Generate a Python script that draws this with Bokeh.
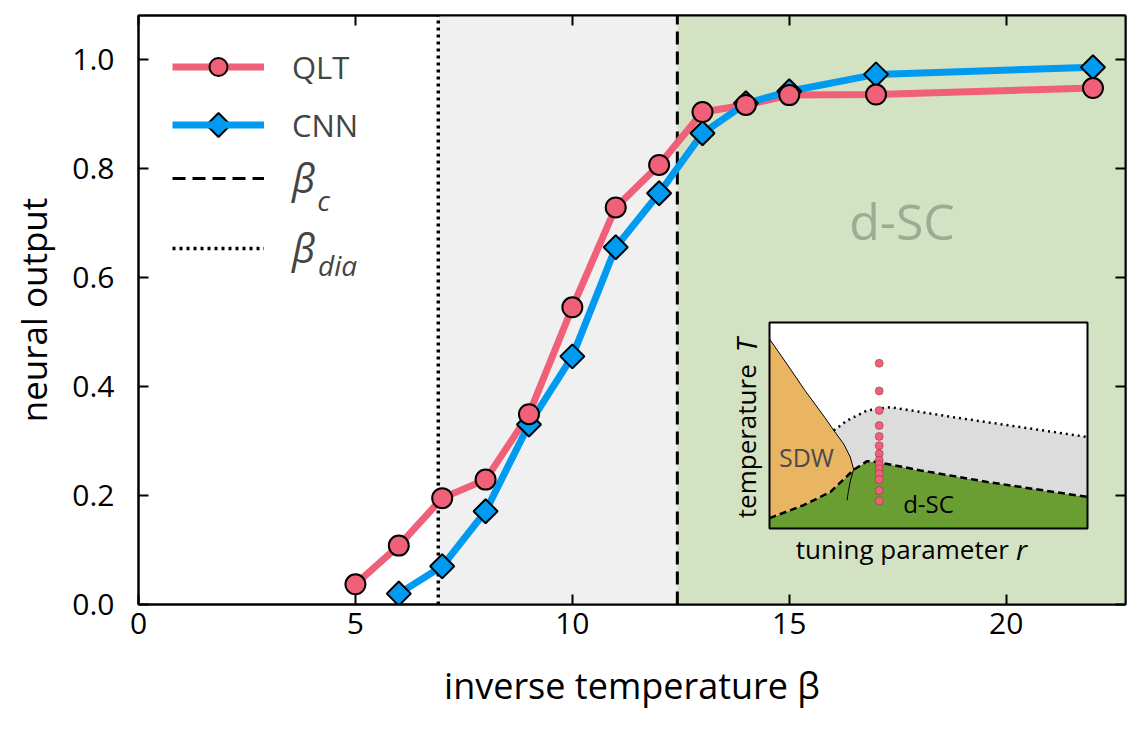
import math
from bokeh.plotting import figure
from bokeh.models import (Range1d, LinearAxis, FixedTicker, PrintfTickFormatter, BoxAnnotation,
                          Legend, LegendItem, Label)
from bokeh.core.properties import value
from bokeh.embed import file_html
from bokeh.resources import INLINE

# ---------------- data ----------------
beta_qlt = [5, 6, 7, 8, 9, 10, 11, 12, 13, 14, 15, 17, 22]
out_qlt = [0.037, 0.108, 0.195, 0.229, 0.349, 0.545, 0.728, 0.806, 0.903, 0.916, 0.934, 0.935, 0.947]
beta_cnn = [6, 7, 8, 9, 10, 11, 12, 13, 14, 15, 17, 22]
out_cnn = [0.020, 0.070, 0.171, 0.330, 0.455, 0.655, 0.754, 0.864, 0.919, 0.941, 0.972, 0.985]
beta_c = 12.42
beta_dia = 6.91
x_ticks = [0, 5, 10, 15, 20]
y_ticks = [0.0, 0.2, 0.4, 0.6, 0.8, 1.0]

# inset schematic (normalised 0..1 coordinates)
sdw_u = [0.0, 0.055, 0.112, 0.181, 0.202, 0.233, 0.254, 0.265]
sdw_v = [0.92, 0.798, 0.669, 0.524, 0.476, 0.411, 0.347, 0.285]
tc_u = [0.0, 0.107, 0.191, 0.265, 0.286, 0.307, 0.338, 0.475, 0.685, 1.0]
tc_v = [0.05, 0.113, 0.177, 0.285, 0.306, 0.327, 0.323, 0.282, 0.226, 0.153]
cross_u = [0.202, 0.244, 0.307, 0.38, 0.58, 0.79, 1.0]
cross_v = [0.476, 0.524, 0.573, 0.589, 0.540, 0.492, 0.444]
fo_u = [0.265, 0.255, 0.248, 0.244]
fo_v = [0.29, 0.235, 0.18, 0.137]
dots_u = 0.345
dots_v = [0.802, 0.668, 0.573, 0.500, 0.447, 0.402, 0.363, 0.331, 0.311, 0.290, 0.266, 0.237, 0.184, 0.134]

RED = "#f06078"
BLUE = "#009bf0"
FONT = "Open Sans"

# frame geometry (pixels)
W, H = 1140, 735
FL, FR, FT, FB = 138, 1125, 15, 604

p = figure(width=W, height=H, x_range=Range1d(0, 22.75), y_range=Range1d(0, 1.08),
           output_backend="svg", toolbar_location=None,
           min_border_left=FL, min_border_right=W - FR, min_border_top=FT, min_border_bottom=H - FB)
p.xgrid.visible = False
p.ygrid.visible = False
p.outline_line_color = "black"
p.outline_line_width = 2
p.background_fill_color = "white"

# pixel-space helper range (for legend marker overlay)
p.extra_x_ranges = {"px": Range1d(FL, FR)}
p.extra_y_ranges = {"px": Range1d(FB, FT)}

# shading
p.add_layout(BoxAnnotation(left=beta_dia, right=beta_c, fill_color="#f0f0f0", fill_alpha=1,
                           line_alpha=0, level="underlay"))
p.add_layout(BoxAnnotation(left=beta_c, fill_color="#d4e2c4", fill_alpha=1, line_alpha=0, level="underlay"))

p.text(x=[17.6], y=[0.704], text=["d-SC"], text_font=value(FONT), text_font_size="50px",
       text_color="#9dab93", text_align="center", text_baseline="middle")

# vertical lines
ymax = p.y_range.end
r_dia = p.line([beta_dia, beta_dia], [0, ymax], line_color="black", line_width=3.5, line_dash="3 4")
r_c = p.line([beta_c, beta_c], [0, ymax], line_color="black", line_width=3, line_dash="13 7")

# data series
l_q = p.line(beta_qlt, out_qlt, line_color=RED, line_width=7)
l_c = p.line(beta_cnn, out_cnn, line_color=BLUE, line_width=7)
s_c = p.scatter(beta_cnn, out_cnn, marker="square", angle=math.pi / 4, size=17,
                fill_color=BLUE, line_color="black", line_width=2)
s_q = p.scatter(beta_qlt, out_qlt, marker="circle", size=20,
                fill_color=RED, line_color="black", line_width=2)

# axes styling
def style_axis(ax, labels=True):
    ax.axis_line_width = 2
    ax.major_tick_line_width = 2
    ax.major_tick_in = 10
    ax.major_tick_out = 0
    ax.minor_tick_line_color = None
    ax.major_label_text_font = FONT
    ax.major_label_text_font_size = "30px" if labels else "1px"
    ax.major_label_text_color = "black" if labels else None
    ax.axis_label_text_font = FONT
    ax.axis_label_text_font_style = "normal"
    ax.axis_label_text_color = "black"

p.xaxis.ticker = FixedTicker(ticks=x_ticks)
p.yaxis.ticker = FixedTicker(ticks=y_ticks)
p.yaxis.formatter = PrintfTickFormatter(format="%.1f")
for ax in p.xaxis + p.yaxis:
    style_axis(ax)
p.xaxis.axis_label = "inverse temperature β"
p.xaxis.axis_label_text_font_size = "36px"
p.xaxis.major_label_standoff = 8
p.xaxis.axis_label_standoff = 24
p.yaxis.axis_label = "neural output"
p.yaxis.axis_label_text_font_size = "35px"
p.yaxis.major_label_standoff = 24
p.yaxis.axis_label_standoff = 12

top_ax = LinearAxis(ticker=FixedTicker(ticks=x_ticks))
right_ax = LinearAxis(ticker=FixedTicker(ticks=y_ticks))
for ax in (top_ax, right_ax):
    style_axis(ax, labels=False)
    ax.major_label_standoff = 0
p.add_layout(top_ax, "above")
p.add_layout(right_ax, "right")

# legends
leg1 = Legend(items=[LegendItem(label="QLT", renderers=[l_q, s_q]),
                     LegendItem(label="CNN", renderers=[l_c])],
              location=(34, 457), glyph_width=92, glyph_height=45, label_height=45,
              spacing=13, padding=0, margin=0, label_standoff=28,
              label_text_font=FONT, label_text_font_size="31px",
              background_fill_alpha=0, border_line_alpha=0)
leg2 = Legend(items=[LegendItem(label="β", renderers=[r_c]),
                     LegendItem(label="β", renderers=[r_dia])],
              location=(34, 329), glyph_width=92, glyph_height=50, label_height=50,
              spacing=15, padding=0, margin=0, label_standoff=28,
              label_text_font=FONT, label_text_font_size="40px", label_text_font_style="italic",
              background_fill_alpha=0, border_line_alpha=0)
p.add_layout(leg1)
p.add_layout(leg2)
# CNN legend marker (rotated square, as in the plot)
p.scatter([FL + 34 + 46], [FB - 457 - 22.5], marker="square", angle=math.pi / 4, size=17,
          fill_color=BLUE, line_color="black", line_width=2, x_range_name="px", y_range_name="px")
p.add_layout(Label(x=4.12, y=0.742, text="c", text_font=FONT, text_font_size="28px",
                   text_font_style="italic", text_baseline="alphabetic"))
p.add_layout(Label(x=4.14, y=0.622, text="dia", text_font=FONT, text_font_size="28px",
                   text_font_style="italic", text_baseline="alphabetic"))

# ---------------- inset (own normalised ranges) ----------------
IL, IR, IT, IB = 769, 1087, 322, 528
fw = (IR - IL) / (FR - FL)
fl = (IL - FL) / (FR - FL)
fh = (IB - IT) / (FB - FT)
fb = (FB - IB) / (FB - FT)
p.extra_x_ranges["inset"] = Range1d(-fl / fw, (1 - fl) / fw)
p.extra_y_ranges["inset"] = Range1d(-fb / fh, (1 - fb) / fh)
kw = dict(x_range_name="inset", y_range_name="inset")

p.quad(left=[0], right=[1], bottom=[0], top=[1], fill_color="white", line_alpha=0, **kw)
# green SC dome
p.patch(tc_u + [1.0, 0.0], tc_v + [0.0, 0.0], fill_color="#6a9e32", line_alpha=0, **kw)
# grey pseudogap
i_split = tc_u.index(0.265)
gx = cross_u + tc_u[::-1][:len(tc_u) - i_split] + sdw_u[::-1][:len(sdw_u) - 4]
gy = cross_v + tc_v[::-1][:len(tc_v) - i_split] + sdw_v[::-1][:len(sdw_v) - 4]
p.patch(gx, gy, fill_color="#dcdcdc", line_alpha=0, **kw)
# orange SDW
ox = [0.0] + sdw_u + tc_u[:i_split][::-1]
oy = [sdw_v[0]] + sdw_v + tc_v[:i_split][::-1]
p.patch(ox, oy, fill_color="#eab562", line_alpha=0, **kw)
p.line(sdw_u, sdw_v, line_color="black", line_width=1, **kw)
p.line(fo_u, fo_v, line_color="black", line_width=1, **kw)
p.line(tc_u, tc_v, line_color="black", line_width=2.5, line_dash="7 4", **kw)
p.line(cross_u, cross_v, line_color="black", line_width=2.5, line_dash="2 4", **kw)
p.scatter([dots_u] * len(dots_v), dots_v, size=8, fill_color=RED, line_color="#7a3040",
          line_width=0.5, **kw)
p.quad(left=[0], right=[1], bottom=[0], top=[1], fill_alpha=0, line_color="black", line_width=2, **kw)
p.text(x=[0.116], y=[0.345], text=["SDW"], text_font=value(FONT), text_font_size="25px",
       text_color="#4a4a4a", text_align="center", text_baseline="middle", **kw)
p.text(x=[0.50], y=[0.12], text=["d-SC"], text_font=value(FONT), text_font_size="24px",
       text_color="black", text_align="center", text_baseline="middle", **kw)
p.text(x=[0.753], y=[-0.1], text=["tuning parameter"], text_font=value(FONT), text_font_size="26px",
       text_color="black", text_align="right", text_baseline="middle", **kw)
p.text(x=[0.775], y=[-0.1], text=["r"], text_font=value(FONT), text_font_size="28px",
       text_font_style="italic", text_color="black", text_align="left", text_baseline="middle", **kw)
p.text(x=[-0.075], y=[0.05], text=["temperature"], text_font=value(FONT), text_font_size="26px",
       angle=math.pi / 2, text_color="black", text_align="left", text_baseline="middle", **kw)
p.text(x=[-0.075], y=[0.855], text=["T"], text_font=value(FONT), text_font_size="28px",
       angle=math.pi / 2, text_font_style="italic", text_color="black", text_align="left",
       text_baseline="middle", **kw)

open("out.html", "w").write(file_html(p, INLINE))
